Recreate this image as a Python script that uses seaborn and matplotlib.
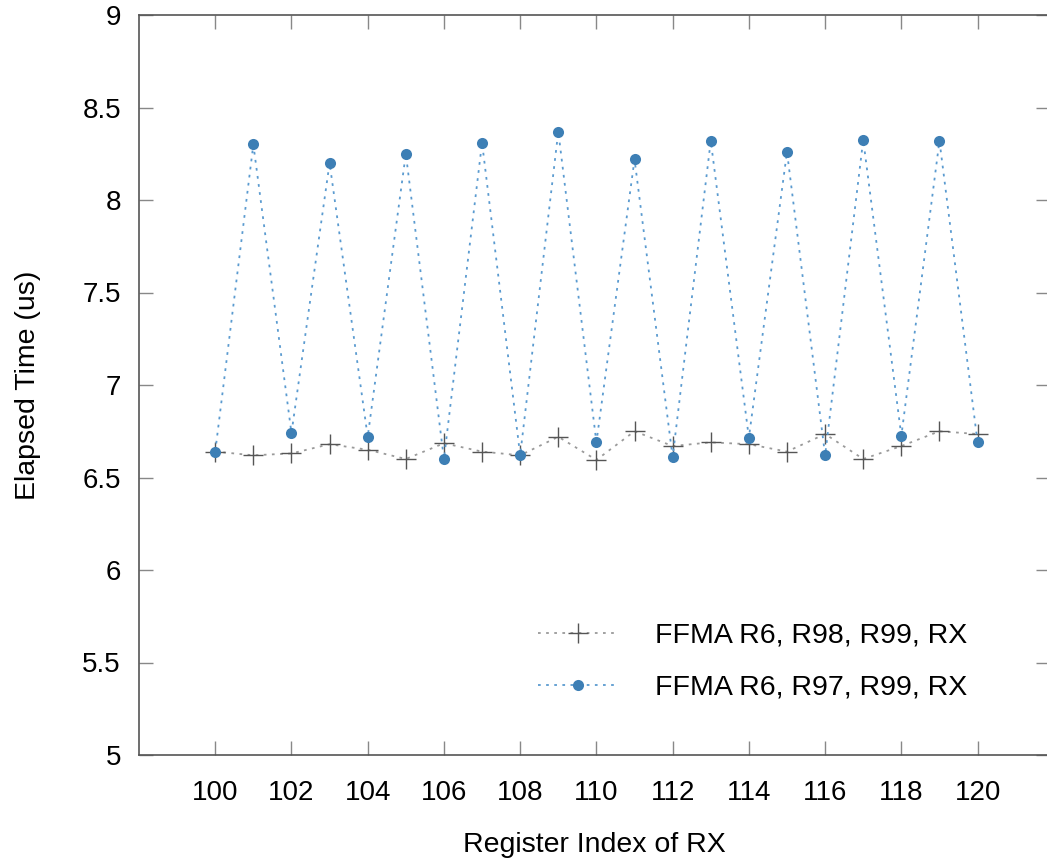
import pandas as pd
import seaborn as sns
import matplotlib.pyplot as plt

# register index of RX
rx = list(range(100, 121))

# FFMA R6, R98, R99, RX  (no bank conflict)
t_r98 = [6.64, 6.62, 6.63, 6.68, 6.65, 6.60, 6.685, 6.64, 6.62, 6.72, 6.595,
         6.75, 6.67, 6.69, 6.68, 6.64, 6.735, 6.60, 6.67, 6.75, 6.735]

# FFMA R6, R97, R99, RX  (alternating bank conflict)
t_r97 = [6.64, 8.30, 6.74, 8.20, 6.72, 8.25, 6.60, 8.31, 6.62, 8.37, 6.69,
         8.22, 6.61, 8.32, 6.715, 8.26, 6.62, 8.325, 6.725, 8.32, 6.69]

labels = ['FFMA R6, R98, R99, RX', 'FFMA R6, R97, R99, RX']

df1 = pd.DataFrame({'rx': rx, 'time': t_r98})
df2 = pd.DataFrame({'rx': rx, 'time': t_r97})

sns.set_style('ticks')
plt.rcParams['font.family'] = ['Liberation Sans', 'DejaVu Sans']
plt.rcParams['text.color'] = 'black'
plt.rcParams['xtick.labelcolor'] = 'black'
plt.rcParams['ytick.labelcolor'] = 'black'
plt.rcParams['axes.labelcolor'] = 'black'

fig = plt.figure(figsize=(10.47, 8.61), dpi=100)
ax = fig.add_axes([139 / 1047, 1 - 755 / 861, (1050 - 139) / 1047, (755 - 15) / 861])

sns.lineplot(data=df1, x='rx', y='time', ax=ax, color='#9a9a9a', linestyle=(0, (1.5, 3)),
             linewidth=1.3, marker='+', markersize=14, markeredgewidth=1.0,
             markeredgecolor='#555555', label=labels[0])
sns.lineplot(data=df2, x='rx', y='time', ax=ax, color='#5b9bd0', linestyle=(0, (1.5, 3)),
             linewidth=1.3, marker='o', markersize=8, markeredgewidth=0,
             markerfacecolor='#3d7fb5', label=labels[1])

ax.set_xlim(98, 121.9)
ax.set_ylim(5, 9)
ax.set_xticks(range(100, 121, 2))
ax.set_yticks([5, 5.5, 6, 6.5, 7, 7.5, 8, 8.5, 9])
ax.set_yticklabels(['5', '5.5', '6', '6.5', '7', '7.5', '8', '8.5', '9'])

ax.set_xlabel('Register Index of RX', fontsize=20.5, labelpad=19)
ax.set_ylabel('Elapsed Time (us)', fontsize=20.5, labelpad=30)

ax.tick_params(direction='in', length=10, width=1, color='#888888',
               top=True, right=True, labelsize=20, pad=13)
ax.tick_params(axis='x', pad=18)
for s in ax.spines.values():
    s.set_color('#555555')
    s.set_linewidth(1.2)

leg = ax.legend(loc='center left', bbox_to_anchor=(0.426, 0.126), borderaxespad=0,
                frameon=False, fontsize=20.5, handlelength=2.8, handletextpad=1.3,
                labelspacing=0.9, numpoints=1)

plt.savefig('out.png', dpi=100)
plt.close()
